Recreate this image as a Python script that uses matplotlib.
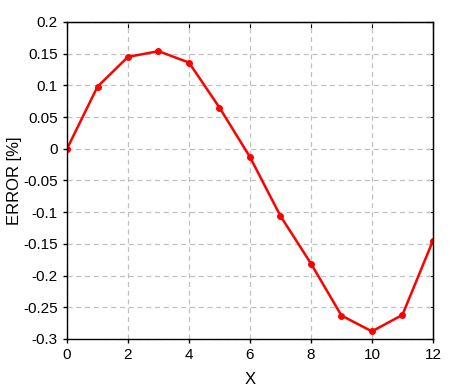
import numpy as np
import matplotlib
matplotlib.use("Agg")
import matplotlib.pyplot as plt

plt.rcParams["font.family"] = ["Liberation Sans", "DejaVu Sans"]
plt.rcParams["axes.unicode_minus"] = False

x = [0, 1, 2, 3, 4, 5, 6, 7, 8, 9, 10, 11, 12]
error = [0.0, 0.098, 0.145, 0.154, 0.136, 0.065, -0.013, -0.106, -0.181,
         -0.263, -0.288, -0.262, -0.145]

x_ticks = [0, 2, 4, 6, 8, 10, 12]
y_ticks = [0.2, 0.15, 0.1, 0.05, 0, -0.05, -0.1, -0.15, -0.2, -0.25, -0.3]
y_tick_labels = ["0.2", "0.15", "0.1", "0.05", "0", "-0.05", "-0.1", "-0.15",
                 "-0.2", "-0.25", "-0.3"]

fig = plt.figure(figsize=(4.67, 3.9), dpi=100)
ax = fig.add_axes([0.1435, 0.1308, 0.7835, 0.8128])

ax.plot(x, error, color="#ff0000", linewidth=1.8, marker="o", markersize=4)

ax.set_xlim(0, 12)
ax.set_ylim(-0.3, 0.2)
ax.set_xticks(x_ticks)
ax.set_yticks(y_ticks)
ax.set_yticklabels(y_tick_labels)
ax.tick_params(direction="out", length=3, width=1, labelsize=11, colors="black")
ax.grid(True, color="#c0c0c0", linestyle=(0, (4, 3)), linewidth=0.9)

for s in ax.spines.values():
    s.set_linewidth(1.0)

top = ax.secondary_xaxis("top")
top.set_xticks(x_ticks)
top.tick_params(direction="in", length=4, labeltop=False)
right = ax.secondary_yaxis("right")
right.set_yticks(y_ticks)
right.tick_params(direction="in", length=4, labelright=False)

ax.set_xlabel("X", fontsize=12, labelpad=7)
ax.set_ylabel("ERROR [%]", fontsize=12, labelpad=1)

fig.savefig("out.png", dpi=100)
